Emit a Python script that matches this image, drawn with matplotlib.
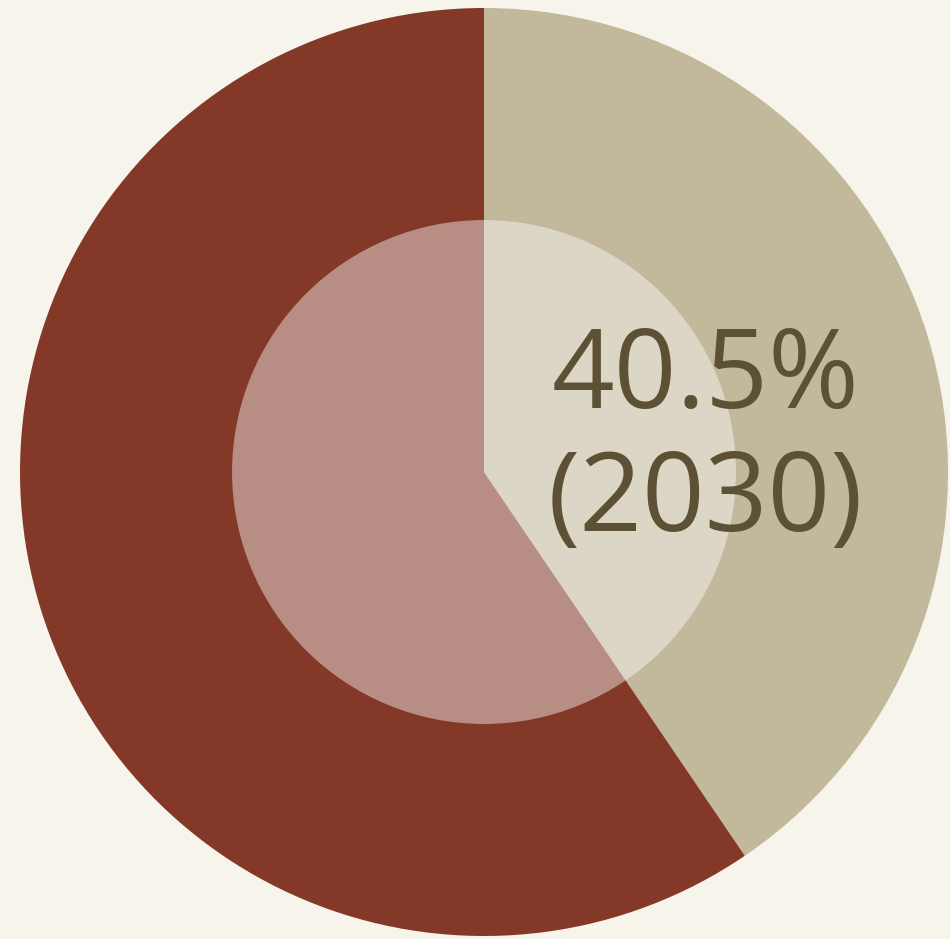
import matplotlib.pyplot as plt
from matplotlib.patches import Circle

# share of the two groups (percent)
labels = ['2030', 'other']
shares = [40.5, 59.5]
colors = ['#C2B89B', '#833828']
value_text = '40.5%\n(2030)'

fig = plt.figure(figsize=(9.5, 9.39), dpi=100)
fig.patch.set_facecolor('#F7F4EC')
ax = fig.add_axes([0, 0, 1, 1])
ax.set_facecolor('#F7F4EC')

# beige slice starts at 12 o'clock and runs clockwise
ax.pie(shares, colors=colors, startangle=90, counterclock=False,
       radius=1.0, wedgeprops=dict(linewidth=0))

# lighter centre disc
ax.add_patch(Circle((0, 0), 0.543, facecolor='white', alpha=0.43,
                    linewidth=0, zorder=3))

ax.text(0.478, 0.068, value_text, ha='center', va='center',
        fontsize=79, family='Open Sans', color='#5C5035',
        linespacing=1.16, zorder=4)

ax.set_xlim(-484 / 464, 466 / 464)
ax.set_ylim(-467 / 464, 472 / 464)
ax.set_aspect('equal')
ax.axis('off')

fig.savefig('out.png', dpi=100, facecolor=fig.get_facecolor())
